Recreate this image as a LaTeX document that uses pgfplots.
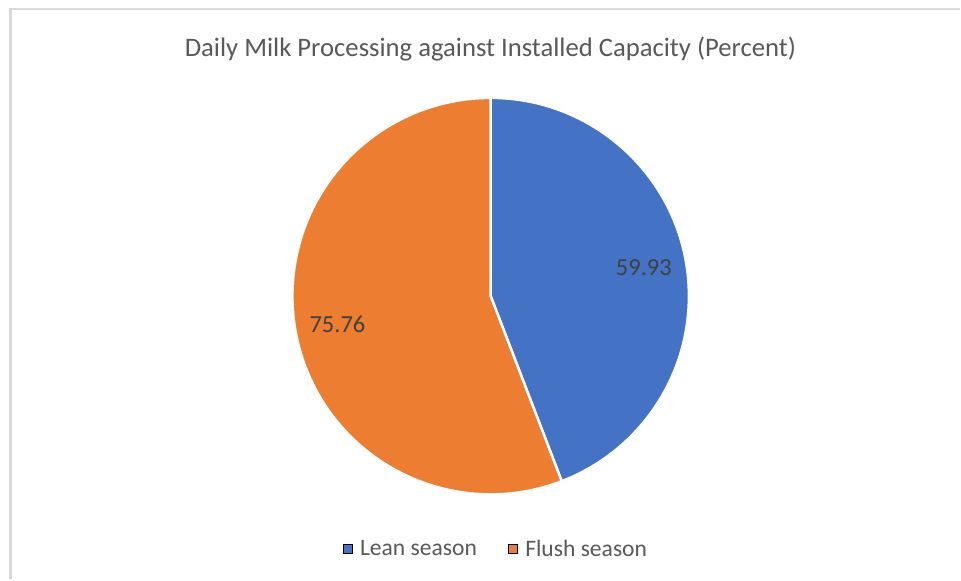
\documentclass[border=0pt]{standalone}
\usepackage{pgfplots}
\pgfplotsset{compat=1.18}
\usepackage{pgfplotstable}
\usepackage{fontspec}
\setmainfont{Carlito}

\definecolor{leanblue}{HTML}{4472C4}
\definecolor{flushorange}{HTML}{ED7D31}
\definecolor{txtgray}{HTML}{595959}
\definecolor{lblgray}{HTML}{404040}
\definecolor{framegray}{HTML}{D9D9D9}

% percent of installed capacity
\pgfplotstableread{
season value
Lean  59.93
Flush 75.76
}\piedata

\begin{document}
\begin{tikzpicture}
\pgfplotstablegetelem{0}{value}\of\piedata \let\lean\pgfplotsretval
\pgfplotstablegetelem{1}{value}\of\piedata \let\flush\pgfplotsretval
\pgfmathsetmacro{\total}{\lean+\flush}
\pgfmathsetmacro{\aLean}{360*(\lean/\total)}
\pgfmathsetmacro{\aEnd}{90-\aLean}
\pgfmathsetmacro{\mLean}{90-\aLean/2}
\pgfmathsetmacro{\mFlush}{\aEnd-(360-\aLean)/2}
\def\R{198.5pt}
\begin{axis}[
  width=961pt, height=580pt, scale only axis,
  xmin=0, xmax=961, ymin=0, ymax=580,
  hide axis, clip=false,
  legend columns=2,
  legend style={draw=none, fill=none, at={(axis cs:495.5,30.5)}, anchor=center,
    font=\fontsize{23.6}{28}\selectfont, text=txtgray, inner sep=0pt,
    nodes={inner sep=0pt},
    /tikz/every odd column/.append style={column sep=8pt},
    /tikz/every even column/.append style={column sep=31pt}},
  legend image code/.code={\fill[#1] (0pt,-4.5pt) rectangle (9pt,4.5pt);},
]
% background and frame
\fill[white] (axis cs:0,0) rectangle (axis cs:961,580);
\draw[framegray, line width=2.5pt] (axis cs:961,571) -- (axis cs:10.3,571) -- (axis cs:10.3,0);

% slices
\filldraw[fill=leanblue, draw=white, line width=2.5pt, line join=round]
  (axis cs:491.3,283.5) -- ++(90:\R) arc[start angle=90, end angle=\aEnd, radius=\R] -- cycle;
\filldraw[fill=flushorange, draw=white, line width=2.5pt, line join=round]
  (axis cs:491.3,283.5) -- ++(\aEnd:\R) arc[start angle=\aEnd, end angle=-270, radius=\R] -- cycle;

% data labels
\path (axis cs:491.3,283.5) ++(\mLean:156pt)
  node[text=lblgray, font=\fontsize{24.5}{28}\selectfont, inner sep=0pt] {\lean};
\path (axis cs:491.3,283.5) ++(\mFlush:156pt)
  node[text=lblgray, font=\fontsize{24.5}{28}\selectfont, inner sep=0pt] {\flush};

% title
\node[text=txtgray, font=\fontsize{26.7}{32}\selectfont, anchor=base, inner sep=0pt]
  at (axis cs:491,523.3) {Daily Milk Processing against Installed Capacity (Percent)};

\addlegendimage{fill=leanblue}
\addlegendentry{Lean season}
\addlegendimage{fill=flushorange}
\addlegendentry{Flush season}
\end{axis}
\end{tikzpicture}
\end{document}
